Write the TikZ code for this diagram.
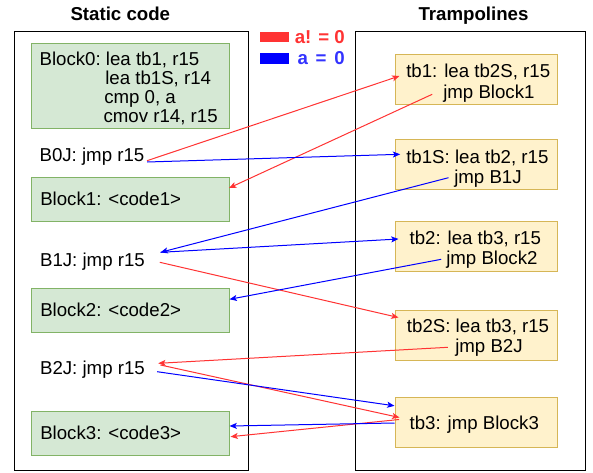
\documentclass[tikz,border=0pt]{standalone}
\usepackage{fontspec}
\setmainfont{Liberation Sans}
\usetikzlibrary{arrows.meta}
\definecolor{rline}{HTML}{FF3333}
\definecolor{bline}{HTML}{0000FF}
\definecolor{btext}{HTML}{3333FF}
\definecolor{gfill}{HTML}{D5E8D4}
\definecolor{gstroke}{HTML}{82B366}
\definecolor{yfill}{HTML}{FFF2CC}
\definecolor{ystroke}{HTML}{D6B656}
\tikzset{
  txt/.style={font=\fontsize{14}{16.8}\selectfont, inner sep=0pt, anchor=base west},
  ttl/.style={font=\fontsize{14}{16.8}\selectfont\bfseries, inner sep=0pt, anchor=base},
  container/.style={draw=black, line width=0.75pt, fill=none, inner sep=0pt},
  gbox/.style={draw=gstroke, fill=gfill, line width=0.75pt, inner sep=0pt, minimum width=148.5pt},
  ybox/.style={draw=ystroke, fill=yfill, line width=0.75pt, inner sep=0pt, minimum width=121.65pt, minimum height=37.5pt},
  redarr/.style={draw=rline, line width=0.75pt, -{Stealth[length=5.5pt,width=4.5pt,inset=1.3pt]}},
  bluearr/.style={draw=bline, line width=0.75pt, -{Stealth[length=5.5pt,width=4.5pt,inset=1.3pt]}},
}
\begin{document}
\begin{tikzpicture}[x=0.75pt,y=-0.75pt]
\useasboundingbox (0,0) rectangle (593,472);
\fill[white] (0,0) rectangle (593,472);

% titles
\node[ttl] (tstatic) at (120.3,20) {Static code};
\node[ttl] (ttramp) at (473.5,20) {Trampolines};

% legend
\fill[rline] (260,32.3) rectangle (289,42.3);
\fill[bline] (260,53.3) rectangle (289,64);
\node[ttl, anchor=base east, text=rline] (lgred) at (345,43.3) {a! = 0};
\node[ttl, anchor=base east, text=btext] (lgblue) at (345,64.3) {a\hspace{5.8pt}=\hspace{5.8pt}0};

% containers
\node[container, minimum width=175.5pt, minimum height=329.6pt] (static) at (131.5,250.75) {};
\node[container, minimum width=172.5pt, minimum height=329.4pt] (tramp) at (470.7,250.9) {};

% static code blocks
\node[gbox, minimum height=64pt] (block0) at (130,86) {};
\node[gbox, minimum height=33pt] (block1) at (130,199.7) {};
\node[gbox, minimum height=33pt] (block2) at (130,310.3) {};
\node[gbox, minimum height=33pt] (block3) at (130,433) {};

\node[txt] (b0a) at (39.3,65) {Block0:};
\node[txt] (b0l1) at (105.7,65) {lea tb1, r15};
\node[txt] (b0l2) at (105,84) {lea tb1S, r14};
\node[txt] (b0l3) at (104,103) {cmp 0, a};
\node[txt] (b0l4) at (103.3,122) {cmov r14, r15};
\node[txt] (b0j) at (39.3,161.5) {B0J: jmp r15};
\node[txt] (b1t) at (40,205.7) {Block1: <code1>};
\node[txt] (b1j) at (39.8,266) {B1J: jmp r15};
\node[txt] (b2t) at (40,316.3) {Block2: <code2>};
\node[txt] (b2j) at (39.8,374) {B2J: jmp r15};
\node[txt] (b3t) at (40,439) {Block3: <code3>};

% trampolines
\node[ybox] (tb1) at (476.6,79.2) {};
\node[ybox] (tb1S) at (476.6,164) {};
\node[ybox] (tb2) at (476.6,246.7) {};
\node[ybox] (tb2S) at (476.6,335) {};
\node[ybox] (tb3) at (476.6,422) {};

\node[txt] (tb1a) at (406,77.5) {tb1: lea tb2S, r15};
\node[txt] (tb1b) at (443,98) {jmp Block1};
\node[txt] (tb1Sa) at (406,163.5) {tb1S: lea tb2, r15};
\node[txt] (tb1Sb) at (454,183) {jmp B1J};
\node[txt] (tb2a) at (409.3,244) {tb2: lea tb3, r15};
\node[txt] (tb2b) at (446,264) {jmp Block2};
\node[txt] (tb2Sa) at (406.7,332) {tb2S: lea tb3, r15};
\node[txt] (tb2Sb) at (455,352) {jmp B2J};
\node[txt] (tb3a) at (409.3,429) {tb3: jmp Block3};

% red connectors (a != 0)
\draw[redarr] ([shift={(2.4,-0.8)}]b0j.base east) -- ([shift={(4.5,-3.2)}]tb1.west);
\draw[redarr] ([shift={(37.2,15.1)}]tb1.west) -- ([shift={(-0.5,-11.7)}]block1.east);
\draw[redarr] ([shift={(14.7,-3.7)}]b1j.base east) -- ([shift={(3.5,-17.5)}]tb2S.west);
\draw[redarr] ([shift={(52.8,12.3)}]tb2S.west) -- ([shift={(13.1,-10.7)}]b2j.base east);
\draw[redarr] ([shift={(15.4,-9)}]b2j.base east) -- ([shift={(4.5,-4.5)}]tb3.west);
\draw[redarr] ([shift={(4,-2.5)}]tb3.west) -- ([shift={(1,3.7)}]block3.east);

% blue connectors (a = 0)
\draw[bluearr] ([shift={(2.4,0.5)}]b0j.base east) -- ([shift={(5.2,-9.7)}]tb1S.west);
\draw[bluearr] ([shift={(53.5,13.7)}]tb1S.west) -- ([shift={(15.4,-13.7)}]b1j.base east);
\draw[bluearr] ([shift={(15.4,-13.7)}]b1j.base east) -- ([shift={(3.5,-7.7)}]tb2.west);
\draw[bluearr] ([shift={(46.2,12.6)}]tb2.west) -- ([shift={(0,-11)}]block2.east);
\draw[bluearr] ([shift={(12.1,-2.3)}]b2j.base east) -- ([shift={(-0.5,-16.2)}]tb3.west);
\draw[bluearr] ([shift={(-0.5,1)}]tb3.west) -- ([shift={(0,-7)}]block3.east);
\end{tikzpicture}
\end{document}
